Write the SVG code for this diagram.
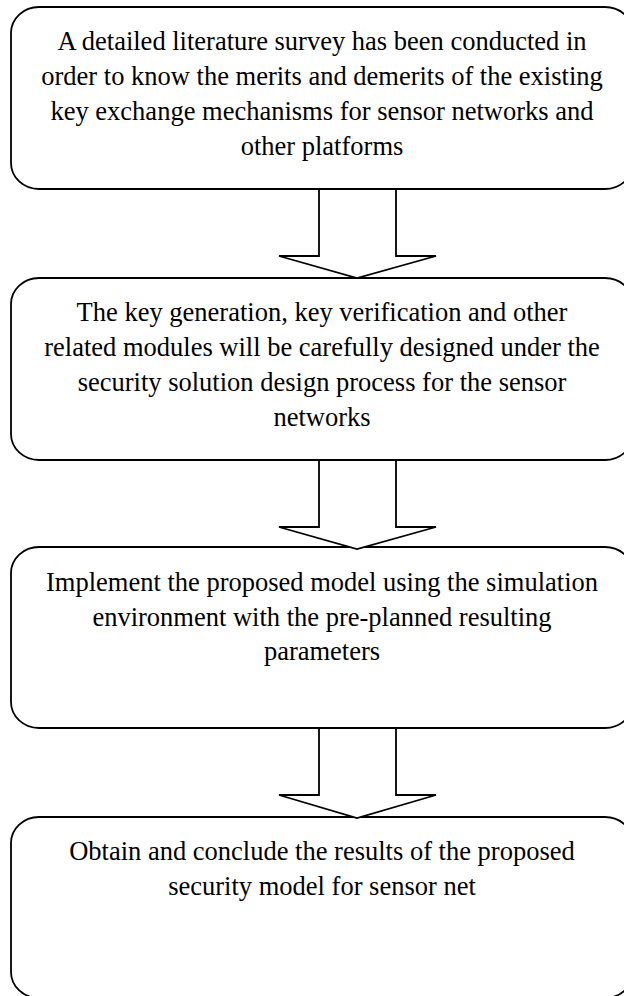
<svg xmlns="http://www.w3.org/2000/svg" width="624" height="996" viewBox="0 0 624 996">
<style>
.box{fill:#fff;stroke:#000;stroke-width:1.8}
.arr{fill:#fff;stroke:#000;stroke-width:1.8;stroke-linejoin:miter}
.t{font-family:"Liberation Serif","Times New Roman",serif;font-size:26.5px;fill:#000;text-anchor:middle}
</style>
<rect width="624" height="996" fill="#fff"/>
<g id="node1">
<rect class="box" x="11" y="7" width="622" height="182" rx="28" ry="26"/>
<text class="t" x="322" y="50">A detailed literature survey has been conducted in</text>
<text class="t" x="322" y="85">order to know the merits and demerits of the existing</text>
<text class="t" x="322" y="120">key exchange mechanisms for sensor networks and</text>
<text class="t" x="322" y="155">other platforms</text>
</g>
<g id="node2">
<rect class="box" x="11" y="278" width="622" height="182" rx="28" ry="26"/>
<text class="t" x="322" y="321">The key generation, key verification and other</text>
<text class="t" x="322" y="356">related modules will be carefully designed under the</text>
<text class="t" x="322" y="391">security solution design process for the sensor</text>
<text class="t" x="322" y="426">networks</text>
</g>
<g id="node3">
<rect class="box" x="11" y="547" width="622" height="181" rx="28" ry="26"/>
<text class="t" x="322" y="591">Implement the proposed model using the simulation</text>
<text class="t" x="322" y="626">environment with the pre-planned resulting</text>
<text class="t" x="322" y="660">parameters</text>
</g>
<g id="node4">
<rect class="box" x="11" y="817" width="622" height="181" rx="28" ry="26"/>
<text class="t" x="322" y="860">Obtain and conclude the results of the proposed</text>
<text class="t" x="322" y="895">security model for sensor net</text>
</g>
<g id="connectors">
<polygon class="arr" points="319,189 396,189 396,256 436,256 357,278 279,256 319,256"/>
<polygon class="arr" points="319,460 396,460 396,527 436,527 357,549 279,527 319,527"/>
<polygon class="arr" points="319,728 396,728 396,795 436,795 357,818 279,795 319,795"/>
</g>
</svg>
